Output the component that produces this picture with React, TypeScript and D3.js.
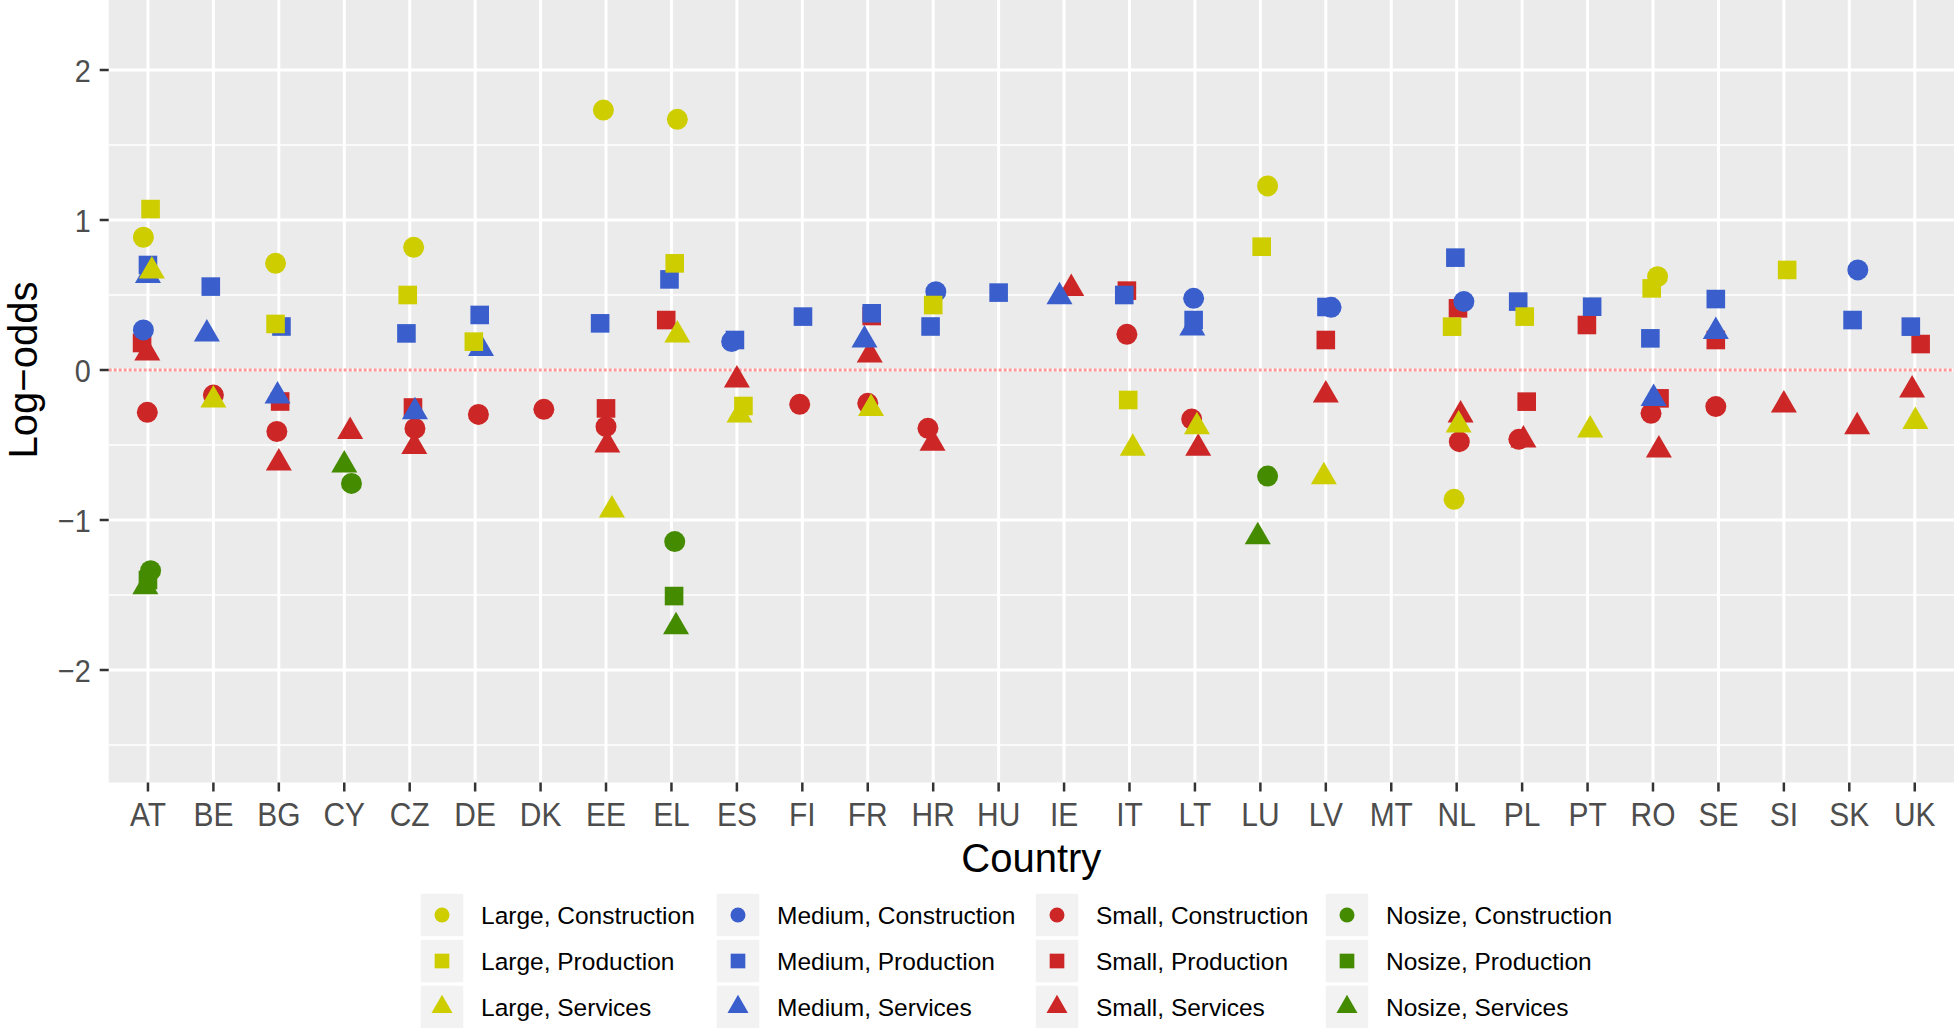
import * as d3 from 'd3'
import React from 'react'

const WIDTH = 1954
const HEIGHT = 1028
const FONT = '"Liberation Sans", Arial, Helvetica, sans-serif'

export const countries = [
  'AT', 'BE', 'BG', 'CY', 'CZ', 'DE', 'DK', 'EE', 'EL', 'ES', 'FI', 'FR', 'HR', 'HU',
  'IE', 'IT', 'LT', 'LU', 'LV', 'MT', 'NL', 'PL', 'PT', 'RO', 'SE', 'SI', 'SK', 'UK',
]

export const sizes = ['Large', 'Medium', 'Small', 'Nosize']
export const sectors = ['Construction', 'Production', 'Services']
export const yTicks = [-2, -1, 0, 1, 2]
export const yMinorTicks = [-2.5, -1.5, -0.5, 0.5, 1.5, 2.5]

// [country, log-odds, jitter (in category widths)]
const largeConstruction = [
  ['AT', 0.885, -0.07], ['BG', 0.711, -0.05], ['CZ', 0.818, 0.06], ['EE', 1.733, -0.04],
  ['EL', 1.671, 0.09], ['LU', 1.227, 0.11], ['NL', -0.862, -0.04], ['RO', 0.622, 0.07],
]
const largeProduction = [
  ['AT', 1.073, 0.04], ['BG', 0.307, -0.05], ['CZ', 0.5, -0.03], ['DE', 0.189, -0.02],
  ['EL', 0.711, 0.05], ['ES', -0.24, 0.1], ['HR', 0.433, 0], ['IT', -0.2, -0.02],
  ['LU', 0.822, 0.02], ['NL', 0.289, -0.07], ['PL', 0.356, 0.04], ['RO', 0.544, -0.02],
  ['SI', 0.667, 0.05],
]
const largeServices = [
  ['AT', 0.66, 0.06], ['BE', -0.2, 0], ['EE', -0.933, 0.09], ['EL', 0.233, 0.09],
  ['ES', -0.3, 0.04], ['FR', -0.256, 0.05], ['IT', -0.522, 0.05], ['LT', -0.378, 0.03],
  ['LV', -0.711, -0.03], ['NL', -0.367, 0.03], ['PT', -0.4, 0.04], ['UK', -0.344, 0.01],
]
const mediumConstruction = [
  ['AT', 0.267, -0.07], ['ES', 0.19, -0.08], ['HR', 0.522, 0.04], ['LT', 0.478, -0.02],
  ['LV', 0.418, 0.08], ['NL', 0.456, 0.11], ['SK', 0.667, 0.13],
]
const mediumProduction = [
  ['AT', 0.7, 0], ['BE', 0.556, -0.04], ['BG', 0.29, 0.04], ['CZ', 0.244, -0.05],
  ['DE', 0.367, 0.07], ['EE', 0.311, -0.09], ['EL', 0.604, -0.03], ['ES', 0.2, -0.03],
  ['FI', 0.356, 0.01], ['FR', 0.378, 0.06], ['HR', 0.29, -0.04], ['HU', 0.516, 0],
  ['IT', 0.5, -0.08], ['LT', 0.333, -0.02], ['LV', 0.42, 0.01], ['NL', 0.749, -0.02],
  ['PL', 0.456, -0.06], ['PT', 0.422, 0.07], ['RO', 0.211, -0.04], ['SE', 0.473, -0.04],
  ['SK', 0.333, 0.05], ['UK', 0.289, -0.06],
]
const mediumServices = [
  ['AT', 0.63, 0], ['BE', 0.24, -0.1], ['BG', -0.173, -0.02], ['CZ', -0.278, 0.08],
  ['DE', 0.144, 0.09], ['FR', 0.2, -0.05], ['IE', 0.489, -0.07], ['LT', 0.28, -0.04],
  ['RO', -0.19, 0.01], ['SE', 0.256, -0.04],
]
const smallConstruction = [
  ['AT', -0.282, -0.01], ['BE', -0.167, 0], ['BG', -0.41, -0.03], ['CZ', -0.39, 0.08],
  ['DE', -0.296, 0.05], ['DK', -0.262, 0.05], ['EE', -0.378, 0], ['FI', -0.229, -0.04],
  ['FR', -0.222, 0], ['HR', -0.389, -0.08], ['IT', 0.238, -0.04], ['LT', -0.327, -0.05],
  ['NL', -0.478, 0.04], ['PL', -0.462, -0.05], ['RO', -0.289, -0.03], ['SE', -0.244, -0.04],
]
const smallProduction = [
  ['AT', 0.18, -0.09], ['BG', -0.21, 0.02], ['CZ', -0.25, 0.05], ['EE', -0.256, 0],
  ['EL', 0.333, -0.08], ['FR', 0.36, 0.06], ['IT', 0.529, -0.04], ['LV', 0.2, 0],
  ['NL', 0.411, 0.02], ['PL', -0.211, 0.07], ['PT', 0.3, -0.01], ['RO', -0.189, 0.1],
  ['SE', 0.2, -0.04], ['UK', 0.173, 0.09],
]
const smallServices = [
  ['AT', 0.113, -0.01], ['BG', -0.62, 0], ['CY', -0.41, 0.09], ['CZ', -0.51, 0.07],
  ['EE', -0.5, 0.02], ['ES', -0.067, 0], ['FR', 0.1, 0.03], ['HR', -0.489, -0.01],
  ['IE', 0.544, 0.11], ['LT', -0.522, 0.05], ['LV', -0.167, 0], ['NL', -0.3, 0.06],
  ['PL', -0.467, 0.02], ['RO', -0.533, 0.09], ['SI', -0.233, 0], ['SK', -0.378, 0.12],
  ['UK', -0.133, -0.04],
]
const nosizeConstruction = [
  ['AT', -1.338, 0.04], ['CY', -0.756, 0.11], ['EL', -1.144, 0.05], ['LU', -0.707, 0.11],
]
const nosizeProduction = [['AT', -1.4, 0], ['EL', -1.507, 0.04]]
const nosizeServices = [
  ['AT', -1.445, -0.04], ['CY', -0.633, 0], ['EL', -1.711, 0.07], ['LU', -1.111, -0.04],
]

const sizeColors = { Large: '#CDCD00', Medium: '#3A5FCD', Small: '#CD2626', Nosize: '#458B00' }

// drawing order: later entries are painted on top
const seriesTable = [
  { size: 'Nosize', sector: 'Construction', points: nosizeConstruction },
  { size: 'Nosize', sector: 'Production', points: nosizeProduction },
  { size: 'Nosize', sector: 'Services', points: nosizeServices },
  { size: 'Small', sector: 'Construction', points: smallConstruction },
  { size: 'Small', sector: 'Production', points: smallProduction },
  { size: 'Small', sector: 'Services', points: smallServices },
  { size: 'Medium', sector: 'Construction', points: mediumConstruction },
  { size: 'Medium', sector: 'Production', points: mediumProduction },
  { size: 'Medium', sector: 'Services', points: mediumServices },
  { size: 'Large', sector: 'Construction', points: largeConstruction },
  { size: 'Large', sector: 'Production', points: largeProduction },
  { size: 'Large', sector: 'Services', points: largeServices },
]

// panel geometry (the top of the panel is cut off by the picture edge)
const panel = { left: 108.7, right: 1954, top: -42.5, bottom: 782.5 }

const symbolTypes = {
  Construction: d3.symbolCircle,
  Production: d3.symbolSquare,
  Services: d3.symbolTriangle,
}
const plotSymbolSize = { Construction: 346, Production: 346, Services: 293 }
const legendSymbolSize = { Construction: 177, Production: 215, Services: 191 }

const symbolPath = (sector, area) => d3.symbol().type(symbolTypes[sector]).size(area)()

// legend layout
const LEGEND_COLUMN_X = [420, 716, 1035, 1325]
const LEGEND_ROW_Y = [915, 961, 1007]
const KEY_SIZE = 44

export default function App() {
  const xScale = d3
    .scaleLinear()
    .domain([0.4, countries.length + 0.6])
    .range([panel.left, panel.right])
  const yScale = d3.scaleLinear().domain([-2.75, 2.75]).range([panel.bottom, panel.top])
  const xOf = (country, jitter = 0) => xScale(countries.indexOf(country) + 1 + jitter)
  const yFormat = d3.format('d')

  const panelCenterX = (panel.left + panel.right) / 2
  const panelCenterY = (panel.top + panel.bottom) / 2

  return (
    <svg
      width={WIDTH}
      height={HEIGHT}
      style={{ position: 'absolute', left: 0, top: 0, display: 'block', background: '#fff' }}
      fontFamily={FONT}
    >
      <rect
        x={panel.left}
        y={panel.top}
        width={panel.right - panel.left}
        height={panel.bottom - panel.top}
        fill="#EBEBEB"
      />

      {/* grid */}
      <g stroke="#fff">
        {yMinorTicks.map(t => (
          <line key={'ym' + t} x1={panel.left} x2={panel.right} y1={yScale(t)} y2={yScale(t)} strokeWidth={1.6} />
        ))}
        {yTicks.map(t => (
          <line key={'y' + t} x1={panel.left} x2={panel.right} y1={yScale(t)} y2={yScale(t)} strokeWidth={3} />
        ))}
        {countries.map(c => (
          <line key={'x' + c} x1={xOf(c)} x2={xOf(c)} y1={panel.top} y2={panel.bottom} strokeWidth={3} />
        ))}
      </g>

      {/* reference line at zero */}
      <line
        x1={panel.left}
        x2={panel.right}
        y1={yScale(0)}
        y2={yScale(0)}
        stroke="rgba(255,0,0,0.4)"
        strokeWidth={3}
        strokeDasharray="3 2"
      />

      {/* points */}
      <g>
        {seriesTable.map(s =>
          s.points.map(([country, value, jitter]) => (
            <path
              key={s.size + s.sector + country}
              d={symbolPath(s.sector, plotSymbolSize[s.sector])}
              transform={`translate(${xOf(country, jitter)},${yScale(value)})`}
              fill={sizeColors[s.size]}
            />
          ))
        )}
      </g>

      {/* y axis */}
      <g>
        {yTicks.map(t => (
          <g key={'yt' + t} transform={`translate(0,${yScale(t)})`}>
            <line x1={panel.left - 9} x2={panel.left} stroke="#333" strokeWidth={2.5} />
            <text
              transform={`translate(${panel.left - 18},0) scale(0.9,1)`}
              dy="0.36em"
              textAnchor="end"
              fontSize={32}
              fill="#4D4D4D"
            >
              {yFormat(t)}
            </text>
          </g>
        ))}
      </g>

      {/* x axis */}
      <g>
        {countries.map(c => (
          <g key={'xt' + c} transform={`translate(${xOf(c)},${panel.bottom})`}>
            <line y1={0} y2={9} stroke="#333" strokeWidth={2.5} />
            <text transform="translate(0,43) scale(0.88,1)" textAnchor="middle" fontSize={34} fill="#4D4D4D">
              {c}
            </text>
          </g>
        ))}
      </g>

      <text x={panelCenterX} y={872} textAnchor="middle" fontSize={40} fill="#000">
        Country
      </text>
      <text
        transform={`translate(37,${panelCenterY}) rotate(-90)`}
        textAnchor="middle"
        fontSize={40}
        fill="#000"
      >
        Log−odds
      </text>

      {/* legend */}
      <g>
        {sizes.map((size, ci) =>
          sectors.map((sector, ri) => {
            const kx = LEGEND_COLUMN_X[ci]
            const cy = LEGEND_ROW_Y[ri]
            return (
              <g key={'lg' + size + sector}>
                <rect
                  x={kx}
                  y={cy - KEY_SIZE / 2}
                  width={KEY_SIZE}
                  height={KEY_SIZE}
                  fill="#F2F2F2"
                  stroke="#fff"
                  strokeWidth={1.5}
                />
                <path
                  d={symbolPath(sector, legendSymbolSize[sector])}
                  transform={`translate(${kx + KEY_SIZE / 2},${cy})`}
                  fill={sizeColors[size]}
                />
                <text x={kx + 61} y={cy} dy="0.36em" fontSize={24.5} fill="#000">
                  {size + ', ' + sector}
                </text>
              </g>
            )
          })
        )}
      </g>
    </svg>
  )
}
